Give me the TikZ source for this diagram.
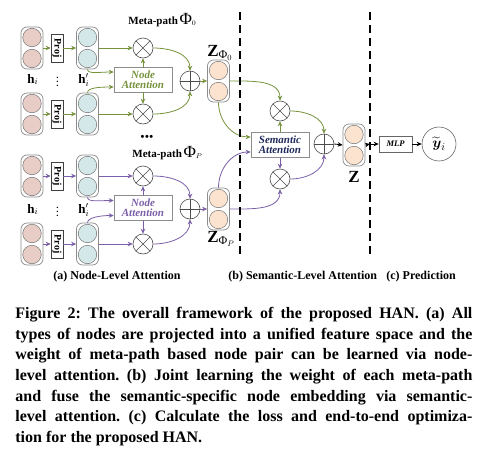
\documentclass[tikz,border=0pt]{standalone}
\usepackage{amsmath}
\usepackage{fontspec}
\setmainfont{Liberation Serif}
\usetikzlibrary{arrows.meta}
\definecolor{gr}{HTML}{76923C}
\definecolor{pu}{HTML}{7A5FA8}
\definecolor{pinkf}{HTML}{E8CDC7}
\definecolor{lblue}{HTML}{D5E8E9}
\definecolor{peach}{HTML}{FBE3CF}
\definecolor{navy}{HTML}{1F2A5C}
\frenchspacing
\newcommand{\fsz}[1]{\fontsize{#1}{#1}\selectfont}
\newcommand{\mkstack}[4]{%
  \node[stack] (#1) at (#2,-#3) {};
  \node[cell, fill=#4] (#1a) at (#2,-#3+10.5) {};
  \node[cell, fill=#4] (#1b) at (#2,-#3-10.5) {};}
\newcommand{\mkmul}[3]{%
  \node[opc] (#1) at (#2,-#3) {};
  \draw[opline] (#1.north west)--(#1.south east) (#1.north east)--(#1.south west);}
\newcommand{\mkadd}[3]{%
  \node[opc] (#1) at (#2,-#3) {};
  \draw[opline] (#1.north)--(#1.south) (#1.west)--(#1.east);}
\newcommand{\capline}[3]{%
  \node[anchor=base west, inner sep=0, font=\bfseries\fsz{16}] (#1) at (15,-#2) {\makebox[457pt][s]{#3}};}
\begin{document}
\begin{tikzpicture}[x=1pt,y=1pt,
  >={Stealth[length=5pt,width=4.5pt]}, line width=0.8pt,
  stack/.style={draw=black!45, rounded corners=6pt, minimum width=22pt, minimum height=42pt, inner sep=0, line width=0.7pt},
  cell/.style={circle, draw=black!55, line width=0.5pt, minimum size=18.5pt, inner sep=0},
  projbox/.style={draw=black!75, line width=0.6pt, minimum width=12pt, minimum height=28pt, inner sep=0, font=\bfseries\fsz{10}},
  opc/.style={circle, draw=black!70, line width=0.6pt, minimum size=20pt, inner sep=0},
  opline/.style={draw=black!70, line width=0.6pt},
  attbox/.style={draw=black!45, line width=0.6pt, minimum width=58pt, minimum height=25pt, inner sep=0, align=center, font=\bfseries\itshape\fsz{11}},
  garr/.style={->, draw=gr},
  parr/.style={->, draw=pu},
  karr/.style={->, draw=black},
  dline/.style={line width=1.5pt, dash pattern=on 8pt off 5pt},
  lbl/.style={inner sep=0, anchor=base west},
  vd/.style={inner sep=0, font=\bfseries\fsz{9}},
]
\useasboundingbox (0,0) rectangle (485,-458);

% ---------- top meta-path (green) ----------
\mkstack{in1}{32}{48}{pinkf}
\mkstack{in2}{32}{114}{pinkf}
\mkstack{hp1}{87.5}{48}{lblue}
\mkstack{hp2}{87.5}{114}{lblue}
\node[projbox] (pj1) at (57,-48) {\rotatebox{-90}{Proj}};
\node[projbox] (pj2) at (57,-114) {\rotatebox{-90}{Proj}};
\mkmul{ox1}{143}{48}
\mkmul{ox2}{143}{114}
\node[attbox, text=gr] (na1) at (143,-79.5) {Node\\[-1pt]Attention};
\mkadd{op1}{190}{81}
\mkstack{z0}{218.5}{81}{peach}

\draw[garr] (in1.east) -- (pj1.west);
\draw[garr] (pj1.east) -- (hp1.west);
\draw[garr] (in2.east) -- (pj2.west);
\draw[garr] (pj2.east) -- (hp2.west);
\draw[garr] (hp1.east) -- (ox1.west);
\draw[garr] (hp2.east) -- (ox2.west);
\draw[garr] (hp1.south) .. controls +(0,-5) and +(-14,0) .. ([yshift=7.5pt]na1.west);
\draw[garr] (hp2.north) .. controls +(0,5) and +(-14,0) .. ([yshift=-7.5pt]na1.west);
\draw[garr] (na1.north) -- (ox1.south);
\draw[garr] (na1.south) -- (ox2.north);
\draw[garr] (ox1.east) to[out=0,in=90] (op1.north);
\draw[garr] (ox2.east) to[out=0,in=-90] (op1.south);
\draw[garr] (op1.east) -- (z0.west);

\node[lbl] (mp0) at (128,-24) {{\bfseries\fsz{11}Meta-path}\,{\fsz{17}Φ}$_0$};
\node[lbl, font=\fsz{13}] (h1) at (27,-83) {\textbf{h}$_i$};
\node[vd] (d1) at (57.5,-79) {$\vdots$};
\node[lbl, font=\fsz{13}] (h1p) at (78,-83) {\textbf{h}$'_i$};
\node[lbl, font=\fsz{17}] (zl0) at (207,-56) {\textbf{Z}$_{\text{Φ}_0}$};

\node[inner sep=0, font=\bfseries\fsz{11}] (dots) at (147,-138) {\textbullet\hspace{0.5pt}\textbullet\hspace{0.5pt}\textbullet};

% ---------- bottom meta-path (purple) ----------
\mkstack{in3}{32}{176}{pinkf}
\mkstack{in4}{32}{244}{pinkf}
\mkstack{hp3}{87.5}{176}{lblue}
\mkstack{hp4}{87.5}{244}{lblue}
\node[projbox] (pj3) at (57,-176) {\rotatebox{-90}{Proj}};
\node[projbox] (pj4) at (57,-244) {\rotatebox{-90}{Proj}};
\mkmul{ox3}{143}{176}
\mkmul{ox4}{143}{244}
\node[attbox, text=pu] (na2) at (143,-208) {Node\\[-1pt]Attention};
\mkadd{op2}{190}{209}
\mkstack{zP}{218.5}{209}{peach}

\draw[parr] (in3.east) -- (pj3.west);
\draw[parr] (pj3.east) -- (hp3.west);
\draw[parr] (in4.east) -- (pj4.west);
\draw[parr] (pj4.east) -- (hp4.west);
\draw[parr] (hp3.east) -- (ox3.west);
\draw[parr] (hp4.east) -- (ox4.west);
\draw[parr] (hp3.south) .. controls +(0,-5) and +(-14,0) .. ([yshift=7.5pt]na2.west);
\draw[parr] (hp4.north) .. controls +(0,5) and +(-14,0) .. ([yshift=-7.5pt]na2.west);
\draw[parr] (na2.north) -- (ox3.south);
\draw[parr] (na2.south) -- (ox4.north);
\draw[parr] (ox3.east) to[out=0,in=90] (op2.north);
\draw[parr] (ox4.east) to[out=0,in=-90] (op2.south);
\draw[parr] (op2.east) -- (zP.west);

\node[lbl] (mpP) at (132,-157) {{\bfseries\fsz{11}Meta-path}\,{\fsz{17}Φ}$_P$};
\node[lbl, font=\fsz{13}] (h3) at (27,-213) {\textbf{h}$_i$};
\node[vd] (d3) at (57.5,-209) {$\vdots$};
\node[lbl, font=\fsz{13}] (h3p) at (78,-213) {\textbf{h}$'_i$};
\node[lbl, font=\fsz{17}] (zlP) at (207,-242) {\textbf{Z}$_{\text{Φ}_P}$};

% ---------- semantic level ----------
\mkmul{sx1}{280}{111}
\mkmul{sx2}{280}{179}
\node[attbox, text=navy] (sa) at (280,-145) {Semantic\\[-1pt]Attention};
\mkadd{sop}{324}{144}
\mkstack{zz}{354}{145}{peach}

\draw[garr] (z0.east) to[out=0,in=90] (sx1.north);
\draw[garr] (z0.south) to[out=-90,in=180] ([yshift=8pt]sa.west);
\draw[parr] (zP.north) to[out=90,in=180] ([yshift=-7pt]sa.west);
\draw[parr] (zP.east) to[out=0,in=-90] (sx2.south);
\draw[garr] (sa.north) -- (sx1.south);
\draw[parr] (sa.south) -- (sx2.north);
\draw[garr] (sx1.east) to[out=0,in=90] (sop.north);
\draw[parr] (sx2.east) to[out=0,in=-90] (sop.south);
\draw[karr] (sop.east) -- (zz.west);
\node[lbl, font=\fsz{17}] (zlab) at (348,-182) {\textbf{Z}};

% ---------- prediction ----------
\node[draw=black!60, line width=0.6pt, minimum width=33pt, minimum height=16pt, inner sep=0, font=\bfseries\itshape\fsz{8.5}] (mlp) at (395.5,-144) {MLP};
\node[circle, draw=black!60, line width=0.6pt, minimum size=34pt, inner sep=0, font=\fsz{15}] (yc) at (439,-144) {$\widetilde{\boldsymbol{y}}_i$};
\coordinate (tick) at (370,-144);
\draw[karr] (zz.east) -- (tick);
\draw[karr] (tick) -- (mlp.west);
\draw[karr] (mlp.east) -- (yc.west);

% ---------- dashed separators ----------
\coordinate (da1) at (240,-12);
\coordinate (da2) at (240,-258);
\coordinate (db1) at (370,-12);
\coordinate (db2) at (370,-258);
\draw[dline] (da1) -- (da2);
\draw[dline] (db1) -- (db2);

% ---------- section labels ----------
\node[inner sep=0, anchor=base, font=\bfseries\fsz{12}] (la) at (117,-279) {(a) Node-Level Attention};
\node[lbl, font=\bfseries\fsz{12}] (lb) at (228,-279) {(b) Semantic-Level Attention};
\node[lbl, font=\bfseries\fsz{12}] (lc) at (386,-279) {(c) Prediction};

% ---------- caption ----------
\capline{c1}{318.3}{Figure 2: The overall framework of the proposed HAN. (a) All}
\capline{c2}{339}{types of nodes are projected into a unified feature space and the}
\capline{c3}{359.7}{weight of meta-path based node pair can be learned via node-}
\capline{c4}{380.3}{level attention. (b) Joint learning the weight of each meta-path}
\capline{c5}{401}{and fuse the semantic-specific node embedding via semantic-}
\capline{c6}{421.7}{level attention. (c) Calculate the loss and end-to-end optimiza-}
\node[anchor=base west, inner sep=0, font=\bfseries\fsz{16}] (c7) at (15,-442.3) {tion for the proposed HAN.};
\end{tikzpicture}
\end{document}
